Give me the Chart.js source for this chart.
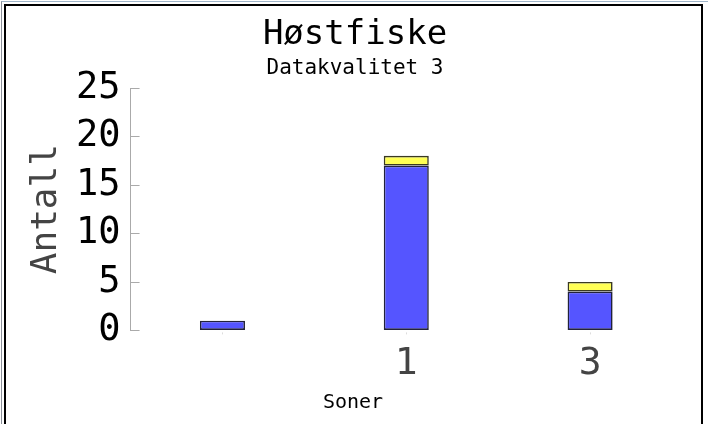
<!DOCTYPE html>
<html>
<head>
<meta charset="utf-8">
<script src="https://cdn.jsdelivr.net/npm/chart.js@4.4.1/dist/chart.umd.min.js"></script>
<style>
  html, body { margin: 0; padding: 0; background: #fff; }
  #wrap { position: relative; width: 708px; height: 424px; overflow: hidden; }
  #chart { position: absolute; left: 0; top: 0; }
  .frame-outer { position: absolute; left: 1px; top: 1px; width: 706px; height: 430px;
    border-left: 1px solid #8a8f99; border-top: 1px solid #9fb4c8; pointer-events: none; }
  .frame-inner { position: absolute; left: 4px; top: 4px; width: 695px; height: 430px;
    border-left: 2px solid #000; border-top: 2px solid #000; border-right: 2px solid #000; pointer-events: none; }
</style>
</head>
<body>
<div id="wrap">
  <canvas id="chart" width="708" height="424"></canvas>
  <div class="frame-outer"></div>
  <div class="frame-inner"></div>
</div>
<script>
// Høstfiske — antall per sone, stablet
const SONER = ["", "1", "3"];
const SERIE_BLA = [1, 17, 4];
const SERIE_GUL = [0, 1, 1];
const Y_TICKS = [0, 5, 10, 15, 20, 25];
const X_TITTEL = "Soner";

const MONO = "'DejaVu Sans Mono', 'Liberation Mono', monospace";

// y-axis tick marks pointing into the plot, x title centred on the canvas
const extras = {
    id: "extras",
    afterDraw(chart) {
        const y = chart.scales.y;
        const x = chart.scales.x;
        const ctx = chart.ctx;
        ctx.save();
        ctx.strokeStyle = "#aaaaaa";
        ctx.lineWidth = 1;
        Y_TICKS.forEach(v => {
            const py = Math.round(y.getPixelForValue(v)) + 0.5;
            ctx.beginPath();
            ctx.moveTo(y.right, py);
            ctx.lineTo(y.right + 9, py);
            ctx.stroke();
        });
        ctx.strokeStyle = "#dddddd";
        SONER.forEach((_, i) => {
            const px = Math.round(x.getPixelForValue(i)) + 0.5;
            ctx.beginPath();
            ctx.moveTo(px, x.top + 2);
            ctx.lineTo(px, x.top + 4);
            ctx.stroke();
        });
        ctx.fillStyle = "#000";
        ctx.font = "20px " + MONO;
        ctx.textAlign = "center";
        ctx.textBaseline = "middle";
        ctx.fillText(X_TITTEL, chart.width / 2 - 1, x.bottom + 5);
        ctx.restore();
    }
};

new Chart(document.getElementById("chart"), {
    type: "bar",
    data: {
        labels: SONER,
        datasets: [
            {
                label: "A",
                data: SERIE_BLA,
                backgroundColor: "#5555ff",
                borderColor: "#22223a",
                borderWidth: 1.6,
                borderSkipped: false,
                categoryPercentage: 1,
                barPercentage: 0.245,
            },
            {
                label: "B",
                data: SERIE_GUL,
                backgroundColor: "#ffff55",
                borderColor: "#3a3a22",
                borderWidth: 1.6,
                borderSkipped: false,
                categoryPercentage: 1,
                barPercentage: 0.245,
            },
        ],
    },
    plugins: [extras],
    options: {
        responsive: false,
        animation: false,
        layout: { padding: { left: 28, right: 26, top: 0, bottom: 26 } },
        plugins: {
            legend: { display: false },
            tooltip: { enabled: false },
            title: {
                display: true,
                text: "Høstfiske",
                color: "#000",
                font: { family: MONO, size: 34, weight: "normal" },
                padding: { top: 15, bottom: 0 },
            },
            subtitle: {
                display: true,
                text: "Datakvalitet 3",
                color: "#000",
                font: { family: MONO, size: 21, weight: "normal" },
                padding: { top: 0, bottom: 7 },
            },
        },
        scales: {
            x: {
                stacked: true,
                grid: { display: false, drawTicks: false },
                border: { display: false },
                ticks: {
                    color: "#444",
                    padding: 11,
                    font: { family: MONO, size: 38 },
                },
            },
            y: {
                stacked: true,
                min: 0,
                max: 25,
                afterBuildTicks: (axis) => { axis.ticks = Y_TICKS.map(v => ({ value: v })); },
                grid: { drawOnChartArea: false, drawTicks: false },
                border: { display: true, color: "#aaaaaa", width: 1 },
                ticks: {
                    color: "#000",
                    padding: 10,
                    font: { family: MONO, size: 37 },
                },
                title: {
                    display: true,
                    text: "Antall",
                    color: "#444",
                    font: { family: MONO, size: 36, lineHeight: 1.0 },
                    padding: { top: 1, bottom: 1 },
                },
            },
        },
    },
});
</script>
</body>
</html>
